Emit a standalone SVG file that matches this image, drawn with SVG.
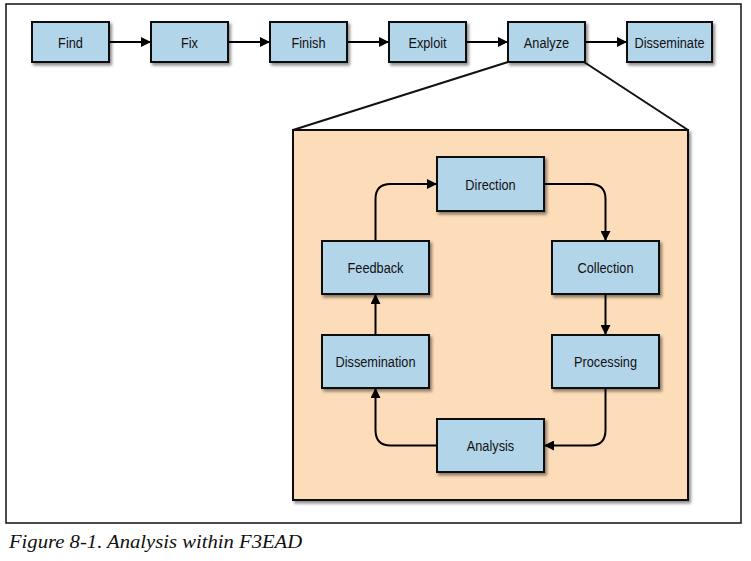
<svg xmlns="http://www.w3.org/2000/svg" width="751" height="561" viewBox="0 0 751 561">
<style>
.box{fill:#b3d5ea;stroke:#111;stroke-width:2;filter:url(#sh)}
.lbl{font-family:"Liberation Sans",Arial,sans-serif;font-size:15px;fill:#111;text-anchor:middle}
.con{fill:none;stroke:#000;stroke-width:2}
.cap{font-family:"Liberation Serif","Times New Roman",serif;font-style:italic;font-size:19.5px;fill:#111}
</style>
<defs>
<filter id="sh" x="-20%" y="-20%" width="150%" height="160%">
<feDropShadow dx="2" dy="2.5" stdDeviation="1.5" flood-color="#000" flood-opacity="0.45"/>
</filter>
<marker id="ah" viewBox="0 0 10 10" refX="10" refY="5" markerWidth="10" markerHeight="10" markerUnits="userSpaceOnUse" orient="auto">
<path d="M0,0 L10,5 L0,10 Z" fill="#000"/>
</marker>
</defs>
<rect width="751" height="561" fill="#fff"/>
<rect x="6" y="4" width="735" height="519" fill="none" stroke="#111" stroke-width="1.5"/>

<g id="zoom-frame">
<rect x="293" y="130" width="395" height="370" fill="#fcdcb9" stroke="#111" stroke-width="2" filter="url(#sh)"/>
<line x1="508" y1="62" x2="293" y2="130" stroke="#111" stroke-width="2"/>
<line x1="584" y1="62" x2="688" y2="130" stroke="#111" stroke-width="2"/>
</g>

<g id="connectors">
<path class="con" marker-end="url(#ah)" d="M109,42 H151"/>
<path class="con" marker-end="url(#ah)" d="M228,42 H270"/>
<path class="con" marker-end="url(#ah)" d="M347,42 H389"/>
<path class="con" marker-end="url(#ah)" d="M466,42 H508"/>
<path class="con" marker-end="url(#ah)" d="M585,42 H627"/>
<path class="con" marker-end="url(#ah)" d="M375.5,241 V199 Q375.5,184 390.5,184 H437"/>
<path class="con" marker-end="url(#ah)" d="M544,184 H590 Q605.5,184 605.5,199 V241"/>
<path class="con" marker-end="url(#ah)" d="M605.5,294 V335"/>
<path class="con" marker-end="url(#ah)" d="M605.5,388 V430 Q605.5,445.5 590.5,445.5 H544"/>
<path class="con" marker-end="url(#ah)" d="M437,445.5 H390.5 Q375.5,445.5 375.5,430 V388"/>
<path class="con" marker-end="url(#ah)" d="M375.5,335 V294"/>
</g>

<g id="find"><rect class="box" x="32" y="22" width="77" height="40"/><text class="lbl" transform="translate(70.5,47.5) scale(0.85,1)">Find</text></g>
<g id="fix"><rect class="box" x="151" y="22" width="77" height="40"/><text class="lbl" transform="translate(189.5,47.5) scale(0.85,1)">Fix</text></g>
<g id="finish"><rect class="box" x="270" y="22" width="77" height="40"/><text class="lbl" transform="translate(308.5,47.5) scale(0.85,1)">Finish</text></g>
<g id="exploit"><rect class="box" x="389" y="22" width="77" height="40"/><text class="lbl" transform="translate(427.5,47.5) scale(0.85,1)">Exploit</text></g>
<g id="analyze"><rect class="box" x="508" y="22" width="77" height="40"/><text class="lbl" transform="translate(546.5,47.5) scale(0.85,1)">Analyze</text></g>
<g id="disseminate"><rect class="box" x="627" y="22" width="85" height="40"/><text class="lbl" transform="translate(669.5,47.5) scale(0.85,1)">Disseminate</text></g>

<g id="direction"><rect class="box" x="437" y="157" width="107" height="54"/><text class="lbl" transform="translate(490.5,189.5) scale(0.85,1)">Direction</text></g>
<g id="feedback"><rect class="box" x="322" y="241" width="107" height="53"/><text class="lbl" transform="translate(375.5,273) scale(0.85,1)">Feedback</text></g>
<g id="collection"><rect class="box" x="552" y="241" width="107" height="53"/><text class="lbl" transform="translate(605.5,273) scale(0.85,1)">Collection</text></g>
<g id="dissemination"><rect class="box" x="322" y="335" width="107" height="53"/><text class="lbl" transform="translate(375.5,367) scale(0.85,1)">Dissemination</text></g>
<g id="processing"><rect class="box" x="552" y="335" width="107" height="53"/><text class="lbl" transform="translate(605.5,367) scale(0.85,1)">Processing</text></g>
<g id="analysis"><rect class="box" x="437" y="419" width="107" height="53"/><text class="lbl" transform="translate(490.5,451) scale(0.85,1)">Analysis</text></g>

<text class="cap" transform="translate(9,548) scale(1.06,1)">Figure 8-1. Analysis within F3EAD</text>
</svg>
